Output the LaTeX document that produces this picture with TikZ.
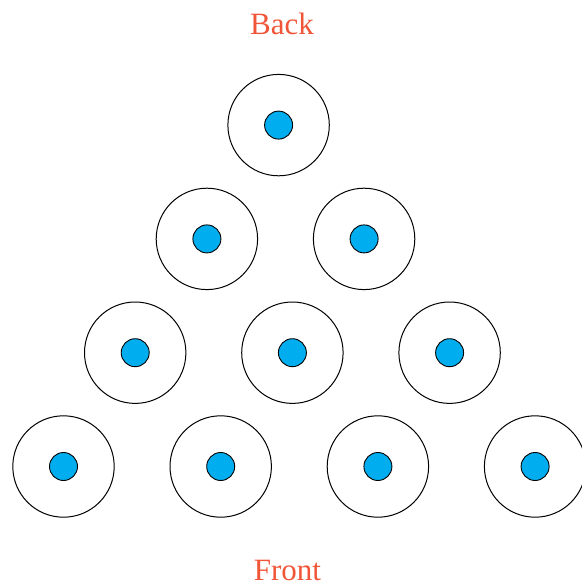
\documentclass[tikz,border=0pt]{standalone}
\usepackage{fontspec}
\setmainfont{Liberation Serif}
\usetikzlibrary{calc}
\definecolor{pinblue}{RGB}{0,174,239}
\definecolor{labelred}{RGB}{240,85,55}
\begin{document}
\begin{tikzpicture}[x=1pt,y=-1pt,
    pinring/.style={draw=black, line width=1pt, fill=white},
    pinhead/.style={draw=black, line width=0.9pt, fill=pinblue},
    sidelabel/.style={text=labelred, anchor=base, inner sep=0pt, font=\fontsize{31}{36}\selectfont}]
    \useasboundingbox (0,0) rectangle (581,586);
    \coordinate (FrontLeft) at (63.5,466.5);% left pin of the front row
    \foreach \r in {0,...,3} {% rows, front to back
      \pgfmathtruncatemacro{\last}{3-\r}
      \foreach \i in {0,...,\last} {
        \coordinate (Pin\r\i) at ($(FrontLeft)+(71.7*\r+157.2*\i,-113.8*\r)$);
        \draw [pinring] (Pin\r\i) circle (50.7);
        \draw [pinhead] (Pin\r\i) circle (14);
      }
    }
    \node [sidelabel] (Back) at (282,35) {Back};
    \node [sidelabel] (Front) at (287.5,580.5) {Front};
  \end{tikzpicture}
\end{document}
